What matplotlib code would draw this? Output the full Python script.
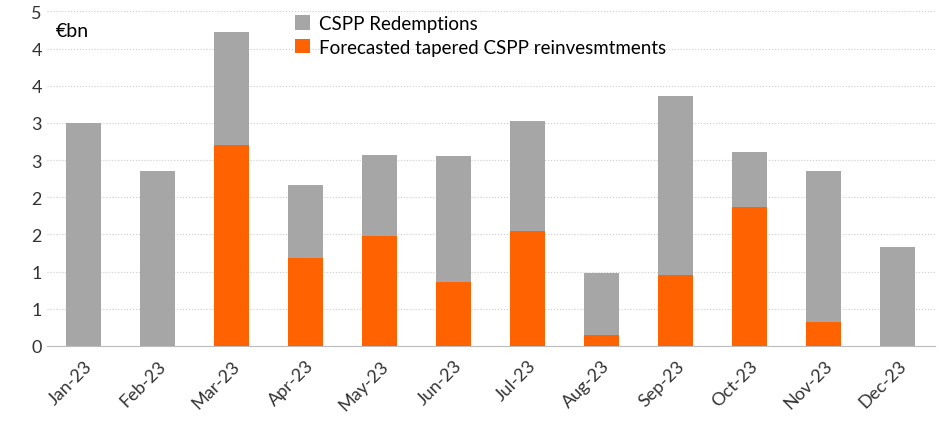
import matplotlib.pyplot as plt
from matplotlib.ticker import FixedLocator, FixedFormatter

months = ["Jan-23", "Feb-23", "Mar-23", "Apr-23", "May-23", "Jun-23",
          "Jul-23", "Aug-23", "Sep-23", "Oct-23", "Nov-23", "Dec-23"]
redemptions = [3.0, 2.35, 4.22, 2.16, 2.57, 2.56, 3.03, 0.98, 3.36, 2.61, 2.35, 1.33]
reinvest = [0, 0, 2.71, 1.19, 1.48, 0.86, 1.55, 0.15, 0.96, 1.87, 0.32, 0]
yticks = [0, 0.5, 1, 1.5, 2, 2.5, 3, 3.5, 4, 4.5]
ylabels = ["0", "1", "1", "2", "2", "3", "3", "4", "4", "5"]

plt.rcParams["font.family"] = ["Lato", "DejaVu Sans"]
fig = plt.figure(figsize=(9.53, 4.31), dpi=100)
ax = fig.add_axes([0.049, 0.195, 0.932, 0.776])

x = range(len(months))
ax.bar(x, redemptions, width=0.47, color="#a6a6a6", label="CSPP Redemptions", zorder=2)
ax.bar(x, reinvest, width=0.47, color="#ff6200",
       label="Forecasted tapered CSPP reinvesmtments", zorder=3)

ax.set_xlim(-0.5, len(months) - 0.5)
ax.set_ylim(0, 4.5)
ax.yaxis.set_major_locator(FixedLocator(yticks))
ax.yaxis.set_major_formatter(FixedFormatter(ylabels))
ax.set_xticks(list(x))
ax.set_xticklabels(months, rotation=45, ha="right", rotation_mode="anchor")
ax.tick_params(axis="both", labelsize=13, length=0, colors="#333333")
ax.tick_params(axis="x", pad=8)
ax.grid(axis="y", color="#cccccc", linestyle=":", linewidth=0.8, zorder=0)
for s in ["top", "right", "left"]:
    ax.spines[s].set_visible(False)
ax.spines["bottom"].set_color("#bbbbbb")
ax.text(0.01, 0.97, "€bn", transform=ax.transAxes, fontsize=14, va="top")
ax.legend(loc="upper left", bbox_to_anchor=(0.26, 1.04), frameon=False,
          fontsize=13.5, handlelength=0.8, handleheight=0.8, handletextpad=0.5,
          labelspacing=0.35)
fig.savefig("out.png")
